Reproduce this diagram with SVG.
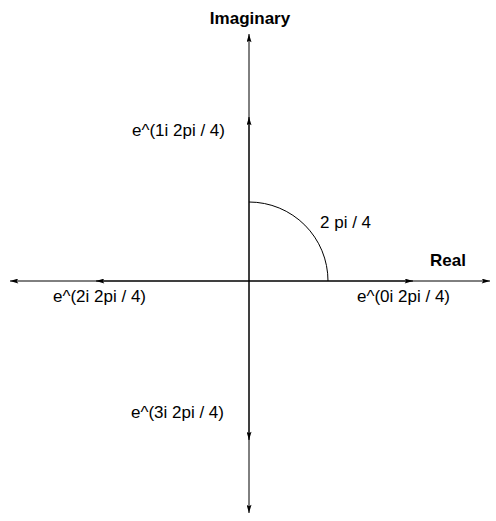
<svg xmlns="http://www.w3.org/2000/svg" width="496" height="521" viewBox="0 0 496 521">
<style>
.ax{stroke:#000;stroke-width:1;fill:none;marker-end:url(#ah)}
.t{font-family:"Liberation Sans",Arial,sans-serif;font-size:17px;fill:#000}
.b{font-weight:bold}
</style>
<defs>
<marker id="ah" viewBox="0 0 10 6" refX="10" refY="3" markerWidth="9" markerHeight="5" markerUnits="userSpaceOnUse" orient="auto">
<path d="M0,0 L10,3 L0,6 L2,3 z" fill="#000"/>
</marker>
</defs>
<rect width="496" height="521" fill="#fff"/>
<g id="connectors">
<line class="ax" x1="249" y1="281" x2="249" y2="34"/>
<line class="ax" x1="249" y1="281" x2="249" y2="513"/>
<line class="ax" x1="249" y1="281" x2="10" y2="281"/>
<line class="ax" x1="249" y1="281" x2="490" y2="281"/>
<line class="ax" x1="249" y1="281" x2="413" y2="281"/>
<line class="ax" x1="249" y1="281" x2="249" y2="117"/>
<line class="ax" x1="249" y1="281" x2="96" y2="281"/>
<line class="ax" x1="249" y1="281" x2="249" y2="440"/>
<path d="M249,202 A79,79 0 0 1 328,281" stroke="#000" stroke-width="1" fill="none"/>
</g>
<g id="imag"><text class="t b" x="250" y="24" text-anchor="middle">Imaginary</text></g>
<g id="real"><text class="t b" x="430" y="266">Real</text></g>
<g id="angle"><text class="t" x="320" y="228">2 pi / 4</text></g>
<g id="p1"><text class="t" x="225" y="136" text-anchor="end">e^(1i 2pi / 4)</text></g>
<g id="p2"><text class="t" x="53" y="302">e^(2i 2pi / 4)</text></g>
<g id="p0"><text class="t" x="357" y="302">e^(0i 2pi / 4)</text></g>
<g id="p3"><text class="t" x="224" y="418" text-anchor="end">e^(3i 2pi / 4)</text></g>
</svg>
